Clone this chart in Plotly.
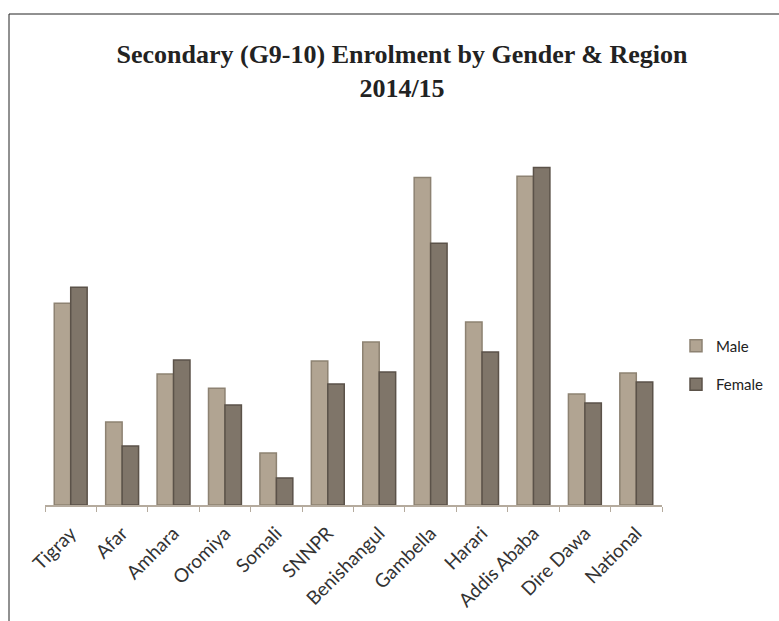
import plotly.graph_objects as go

# Secondary (G9-10) gross enrolment by region, 2014/15 (%)
regions = ["Tigray", "Afar", "Amhara", "Oromiya", "Somali", "SNNPR", "Benishangul",
           "Gambella", "Harari", "Addis Ababa", "Dire Dawa", "National"]
male = [62.5, 25.7, 40.6, 36.2, 16.1, 44.6, 50.5, 101.5, 56.7, 101.9, 34.4, 40.9]
female = [67.5, 18.3, 44.9, 31.0, 8.4, 37.5, 41.2, 81.1, 47.4, 104.6, 31.6, 38.1]

MALE_FILL, MALE_EDGE = "#b1a492", "#8d8272"
FEMALE_FILL, FEMALE_EDGE = "#7f7569", "#5b5249"

fig = go.Figure()
fig.add_trace(go.Bar(x=regions, y=male, name="Male", legendgroup="m",
                     marker=dict(color=MALE_FILL, line=dict(color=MALE_EDGE, width=1.5))))
fig.add_trace(go.Bar(x=regions, y=female, name="Female", legendgroup="f",
                     marker=dict(color=FEMALE_FILL, line=dict(color=FEMALE_EDGE, width=1.5))))

fig.update_layout(
    width=779, height=621,
    margin=dict(l=45, r=117, t=150, b=116),
    paper_bgcolor="white", plot_bgcolor="white",
    barmode="group", bargap=0.36, bargroupgap=0,
    title=dict(
        text="Secondary (G9-10) Enrolment by Gender &amp; Region<br>2014/15",
        font=dict(family="Liberation Serif", size=26, color="#222222", weight="bold"),
        x=402 / 779, xanchor="center", y=1 - 63 / 621, yanchor="top",
    ),
    showlegend=True,
    legend=dict(
        xref="container", yref="container",
        x=676 / 779, y=1 - 365 / 621, xanchor="left", yanchor="middle",
        font=dict(family="Lato", size=15, color="#222222"),
        traceorder="grouped", tracegroupgap=16,
        itemwidth=30, bgcolor="rgba(0,0,0,0)",
    ),
    xaxis=dict(
        showline=True, linecolor="#b5ab9e", linewidth=1.5,
        ticks="outside", tickson="boundaries", ticklen=5, tickcolor="#b5ab9e",
        tickangle=-45, ticklabelstandoff=8,
        tickfont=dict(family="Lato", size=19, color="#333333"),
        showgrid=False, automargin=False,
    ),
    yaxis=dict(range=[0, 110], visible=False, showgrid=False),
    shapes=[
        dict(type="line", xref="paper", yref="paper", x0=(9 - 45) / 617, x1=(790 - 45) / 617,
             y0=(505 - 14) / 355, y1=(505 - 14) / 355, line=dict(color="#222222", width=1)),
        dict(type="line", xref="paper", yref="paper", x0=(9 - 45) / 617, x1=(9 - 45) / 617,
             y0=(505 - 14) / 355, y1=(505 - 640) / 355, line=dict(color="#222222", width=1)),
    ],
)

fig.write_html("out.html")
